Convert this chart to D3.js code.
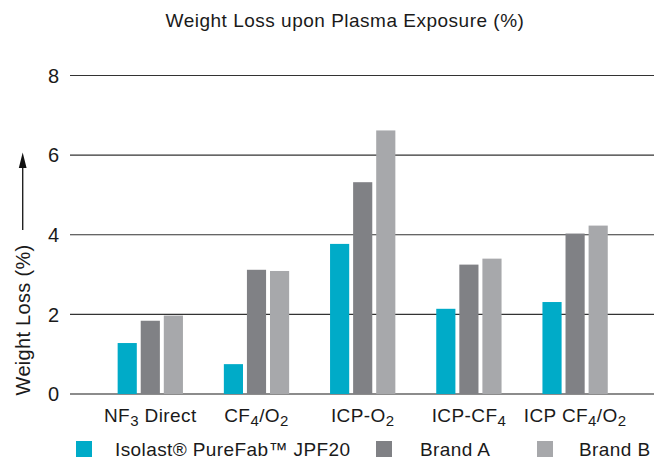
<!DOCTYPE html>
<html>
<head>
<meta charset="utf-8">
<script src="https://cdn.jsdelivr.net/npm/d3@7"></script>
<style>
  body { margin: 0; background: #fff; }
  text { font-family: 'Liberation Sans', Arial, sans-serif; fill: #1a1a1a; }
</style>
</head>
<body>
<div id="canvas"></div>
<script>
// categories, each label split into [text, isSubscript] parts
const categories = ['NF3 Direct', 'CF4/O2', 'ICP-O2', 'ICP-CF4', 'ICP CF4/O2']
const categoryParts = [
  [['NF', 0], ['3', 1], [' Direct', 0]],
  [['CF', 0], ['4', 1], ['/O', 0], ['2', 1]],
  [['ICP-O', 0], ['2', 1]],
  [['ICP-CF', 0], ['4', 1]],
  [['ICP CF', 0], ['4', 1], ['/O', 0], ['2', 1]]
]
const seriesNames = ['Isolast® PureFab™ JPF20', 'Brand A', 'Brand B']
const isolast = [1.28, 0.75, 3.77, 2.14, 2.31]
const brandA = [1.84, 3.12, 5.32, 3.25, 4.03]
const brandB = [1.97, 3.09, 6.62, 3.40, 4.23]
const yTicks = [0, 2, 4, 6, 8]
const colors = ['#00abc8', '#808185', '#a7a8ab']

const series = [isolast, brandA, brandB]
const width = 669, height = 459

const svg = d3.select('#canvas')
  .append('svg')
  .attr('width', width)
  .attr('height', height)

const y = d3.scaleLinear()
  .domain([0, 8])
  .range([394, 75.5])

const x0 = d3.scaleBand()
  .domain(categories)
  .range([97.2, 628.2])

const x1 = d3.scaleBand()
  .domain(d3.range(series.length))
  .range([0, 65.3])
  .paddingInner(0.17)

const groupOffset = (x0.bandwidth() - 65.3) / 2

// title
svg.append('text')
  .attr('x', 345)
  .attr('y', 27)
  .attr('text-anchor', 'middle')
  .attr('font-size', '19px')
  .attr('letter-spacing', '0.5px')
  .text('Weight Loss upon Plasma Exposure (%)')

// gridlines
svg.append('g')
  .selectAll('line')
  .data(yTicks)
  .enter()
  .append('line')
  .attr('x1', 70)
  .attr('x2', 654)
  .attr('y1', d => y(d))
  .attr('y2', d => y(d))
  .attr('stroke', d => d === 0 ? '#666' : '#333')
  .attr('stroke-width', d => d === 0 ? 1.6 : 1.2)

// y tick labels
svg.append('g')
  .selectAll('text')
  .data(yTicks)
  .enter()
  .append('text')
  .attr('x', 59)
  .attr('y', d => y(d))
  .attr('dy', '0.36em')
  .attr('text-anchor', 'end')
  .attr('font-size', '20px')
  .text(d => d)

// bars
categories.forEach((cat, i) => {
  const g = svg.append('g')
    .attr('transform', `translate(${x0(cat) + groupOffset},0)`)
  g.selectAll('rect')
    .data(series.map((s, j) => ({ j: j, v: s[i] })))
    .enter()
    .append('rect')
    .attr('x', d => x1(d.j))
    .attr('width', x1.bandwidth())
    .attr('y', d => y(d.v))
    .attr('height', d => y(0) - y(d.v))
    .attr('fill', d => colors[d.j])
})

// category labels with subscripts
categories.forEach((cat, i) => {
  const t = svg.append('text')
    .attr('x', x0(cat) + x0.bandwidth() / 2)
    .attr('y', 422)
    .attr('text-anchor', 'middle')
    .attr('font-size', '19px')
    .attr('letter-spacing', '0.4px')
  let sub = 0
  categoryParts[i].forEach(p => {
    const dy = p[1] ? 4 - sub : -sub
    sub = p[1] ? 4 : 0
    t.append('tspan')
      .attr('dy', dy)
      .attr('font-size', p[1] ? '15px' : '19px')
      .text(p[0])
  })
})

// y axis title with arrow
svg.append('text')
  .attr('transform', 'translate(30,320) rotate(-90)')
  .attr('text-anchor', 'middle')
  .attr('font-size', '20px')
  .attr('letter-spacing', '0.3px')
  .text('Weight Loss (%)')

svg.append('line')
  .attr('x1', 22.7).attr('x2', 22.7)
  .attr('y1', 230).attr('y2', 164)
  .attr('stroke', '#222')
  .attr('stroke-width', 1.4)
svg.append('path')
  .attr('d', 'M22.7,152.5 L18.8,168 L26.6,168 Z')
  .attr('fill', '#111')

// legend
const legendX = [76, 376, 537]
const legendTextX = [115, 420, 579]
seriesNames.forEach((name, i) => {
  svg.append('rect')
    .attr('x', legendX[i])
    .attr('y', 441)
    .attr('width', 16)
    .attr('height', 16)
    .attr('fill', colors[i])
  svg.append('text')
    .attr('x', legendTextX[i])
    .attr('y', 456)
    .attr('font-size', '19px')
    .attr('letter-spacing', '0.4px')
    .text(name)
})
</script>
</body>
</html>
